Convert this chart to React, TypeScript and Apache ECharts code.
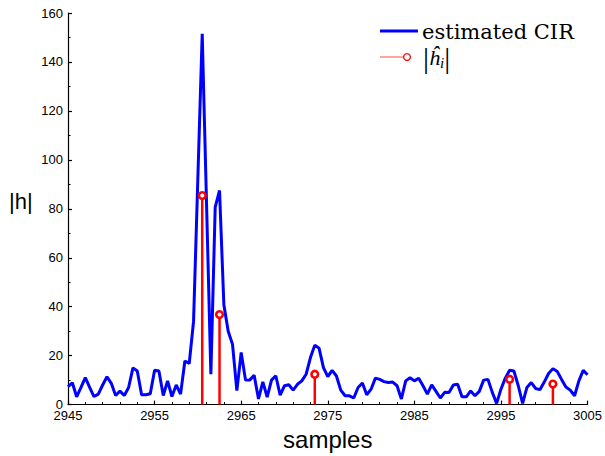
import React, { useEffect, useRef } from "react";
import * as echarts from "echarts";

// Estimated CIR, sampled every half sample from 2945 to 3005
const cirStart = 2945;
const cirStep = 0.5;
const cirValues = [
  7.3, 8.9, 3.2, 7, 11, 7, 3.3, 4.3, 8, 11.4,
  8.7, 3.7, 5.5, 3.7, 7, 15, 13.7, 4, 4, 4.4,
  14, 13.7, 3.7, 9.7, 3.3, 8, 4.3, 17.8, 16.8, 34,
  93, 151.5, 82, 12.4, 80.7, 87.5, 40.8, 30, 24.6, 5.7,
  21.3, 10, 10.1, 12, 2.3, 9.3, 3.1, 10, 11.8, 3.9,
  7.7, 8.1, 5.9, 8.3, 9.7, 12.4, 19.2, 24.3, 23, 15.1,
  11.4, 14, 11.7, 5.9, 3.6, 3.6, 2.7, 7, 8.8, 4,
  6.3, 10.8, 10.3, 9.4, 9, 9.2, 7.7, 2.3, 9.7, 11,
  9.7, 10.8, 7.7, 4.3, 8.1, 5.4, 2.7, 5, 4.9, 8,
  8.3, 3.2, 3.2, 5.6, 3.6, 5.4, 10, 10.3, 5, 0.5,
  6.3, 10.8, 14, 13.7, 7.7, 0.5, 7, 9, 6.6, 6.1,
  9.2, 12.7, 14.7, 13.5, 10.3, 7.2, 5.9, 3.6, 9.7, 14,
  12.2,
];

// Estimated taps |h_i|
const tapPositions = [2960.5, 2962.5, 2973.5, 2996, 3001];
const tapValues = [85.4, 36.8, 12.4, 10.4, 8.4];

const xMin = 2945;
const xMax = 3005;
const xLabelStep = 10;
const yMin = 0;
const yMax = 160;
const yLabelStep = 20;

const legendLabels = ["estimated CIR", "|ĥi|"];

export default function App() {
  const ref = useRef<HTMLDivElement>(null);

  useEffect(() => {
    if (!ref.current) return;
    const chart = echarts.init(ref.current, null, { renderer: "svg" });

    const cirData = cirValues.map((v, i) => [cirStart + i * cirStep, v]);
    const tapData = tapPositions.map((x, i) => [x, tapValues[i]]);

    const tickFont = {
      fontFamily: "Liberation Sans, Arial, sans-serif",
      fontSize: 13,
      color: "#000",
    };

    chart.setOption({
      animation: false,
      backgroundColor: "#fff",
      grid: { left: 68, right: 15, top: 13, bottom: 49, containLabel: false },
      xAxis: {
        type: "value",
        min: xMin,
        max: xMax,
        interval: xLabelStep,
        name: "samples",
        nameLocation: "middle",
        nameGap: 17,
        nameTextStyle: {
          fontFamily: "Liberation Sans, Arial, sans-serif",
          fontSize: 24,
          color: "#000",
          verticalAlign: "top",
        },
        axisLine: { show: true, onZero: false, lineStyle: { color: "#000", width: 1.2 } },
        axisTick: { show: true, inside: true, length: 4, lineStyle: { color: "#000", width: 1.2 } },
        minorTick: { show: true, splitNumber: 5, length: 2.5, lineStyle: { color: "#000", width: 1 } },
        axisLabel: {
          ...tickFont,
          margin: 6,
          lineHeight: 10,
          formatter: (v: number) => String(v),
        },
        splitLine: { show: false },
        minorSplitLine: { show: false },
      },
      yAxis: {
        type: "value",
        min: yMin,
        max: yMax,
        interval: yLabelStep,
        axisLine: { show: true, onZero: false, lineStyle: { color: "#000", width: 1.2 } },
        axisTick: { show: true, inside: true, length: 4, lineStyle: { color: "#000", width: 1.2 } },
        minorTick: { show: true, splitNumber: 2, length: 2.5, lineStyle: { color: "#000", width: 1 } },
        axisLabel: {
          ...tickFont,
          margin: 5,
          lineHeight: 8,
          formatter: (v: number) => String(v),
        },
        splitLine: { show: false },
        minorSplitLine: { show: false },
      },
      series: [
        {
          name: legendLabels[0],
          type: "line",
          data: cirData,
          showSymbol: false,
          symbol: "none",
          lineStyle: { color: "#0000ff", width: 3 },
          itemStyle: { color: "#0000ff" },
          z: 2,
        },
        {
          name: legendLabels[1],
          type: "custom",
          data: tapData,
          encode: { x: 0, y: 1 },
          z: 3,
          renderItem: (params: any, api: any) => {
            const top = api.coord([api.value(0), api.value(1)]);
            const base = api.coord([api.value(0), 0]);
            return {
              type: "group",
              children: [
                {
                  type: "line",
                  shape: { x1: base[0], y1: base[1], x2: top[0], y2: top[1] },
                  style: { stroke: "#ff0000", lineWidth: 2.5 },
                },
                {
                  type: "circle",
                  shape: { cx: top[0], cy: top[1], r: 3.3 },
                  style: { fill: "#ffffff", stroke: "#ff0000", lineWidth: 2.6 },
                },
              ],
            };
          },
        },
      ],
      graphic: [
        {
          type: "text",
          left: 9,
          top: 190,
          style: {
            text: "|h|",
            fontFamily: "Liberation Sans, Arial, sans-serif",
            fontSize: 22,
            fill: "#000",
          },
        },
        {
          type: "line",
          shape: { x1: 380, y1: 31, x2: 418, y2: 31 },
          style: { stroke: "#0000ff", lineWidth: 3 },
        },
        {
          type: "text",
          x: 422,
          y: 31.5,
          style: {
            text: legendLabels[0],
            fontFamily: "DejaVu Serif, serif",
            fontSize: 21,
            lineHeight: 20,
            fill: "#000",
            verticalAlign: "middle",
            align: "left",
          },
        },
        {
          type: "line",
          shape: { x1: 380, y1: 57, x2: 404, y2: 57 },
          style: { stroke: "#ff0000", lineWidth: 1.2, opacity: 0.6 },
        },
        {
          type: "circle",
          shape: { cx: 407, cy: 57, r: 3.4 },
          style: { fill: "#ffffff", stroke: "#ff0000", lineWidth: 1.3 },
        },
        {
          type: "text",
          x: 423,
          y: 57,
          style: {
            text: "{b||}{h|ĥ}{s|i}{b||}",
            verticalAlign: "middle",
            align: "left",
            rich: {
              b: {
                fontFamily: "Liberation Serif, serif",
                fontSize: 30,
                lineHeight: 26,
                fill: "#000",
                verticalAlign: "middle",
              },
              h: {
                fontFamily: "Liberation Serif, serif",
                fontStyle: "italic",
                fontSize: 22,
                lineHeight: 26,
                fill: "#000",
                verticalAlign: "middle",
              },
              s: {
                fontFamily: "Liberation Serif, serif",
                fontStyle: "italic",
                fontSize: 15,
                lineHeight: 18,
                fill: "#000",
                verticalAlign: "bottom",
              },
            },
          },
        },
      ],
    });

    return () => chart.dispose();
  }, []);

  return (
    <div
      ref={ref}
      style={{ position: "fixed", left: 0, top: 0, width: 605, height: 456, background: "#fff" }}
    />
  );
}
